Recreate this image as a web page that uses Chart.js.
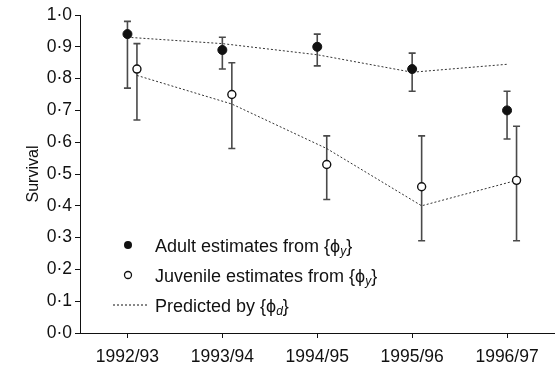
<!DOCTYPE html>
<html>
<head>
<meta charset="utf-8">
<script src="https://cdn.jsdelivr.net/npm/chart.js@4/dist/chart.umd.min.js"></script>
<style>
  html, body { margin: 0; padding: 0; background: #fff; }
  canvas { display: block; }
</style>
</head>
<body>
<canvas id="survival_canvas" width="560" height="369"></canvas>
<script>
// Jahre (Kategorien)
const years = ['1992/93', '1993/94', '1994/95', '1995/96', '1996/97'];

// Adulte Schätzungen mit Fehlerbalken
const adultEst  = [0.94, 0.89, 0.90, 0.83, 0.70];
const adultLow  = [0.77, 0.83, 0.84, 0.76, 0.61];
const adultHigh = [0.98, 0.93, 0.94, 0.88, 0.76];

// Juvenile Schätzungen mit Fehlerbalken
const juvEst  = [0.83, 0.75, 0.53, 0.46, 0.48];
const juvLow  = [0.67, 0.58, 0.42, 0.29, 0.29];
const juvHigh = [0.91, 0.85, 0.62, 0.62, 0.65];

// Vorhersage {phi_d}
const predAdult = [0.93, 0.91, 0.875, 0.82, 0.845];
const predJuv   = [0.81, 0.72, 0.58, 0.40, 0.48];

const yTicks = [0, 0.1, 0.2, 0.3, 0.4, 0.5, 0.6, 0.7, 0.8, 0.9, 1.0];
const juvShift = 0.1; // Juvenile leicht nach rechts versetzt

const FONT = "'Liberation Sans', Arial, Helvetica, sans-serif";

const toPoints = (vals, shift) => vals.map((v, i) => ({ x: i + shift, y: v }));

// Fehlerbalken über die Skalen zeichnen
const errorBars = {
  id: 'errorBars',
  beforeDatasetsDraw(chart) {
    const { ctx, scales: { x, y } } = chart;
    const sets = [
      { low: adultLow, high: adultHigh, shift: 0 },
      { low: juvLow, high: juvHigh, shift: juvShift }
    ];
    ctx.save();
    ctx.strokeStyle = '#4a4a4a';
    ctx.lineWidth = 1.6;
    sets.forEach(s => {
      s.low.forEach((lo, i) => {
        const px = x.getPixelForValue(i + s.shift);
        const y1 = y.getPixelForValue(lo);
        const y2 = y.getPixelForValue(s.high[i]);
        ctx.beginPath();
        ctx.moveTo(px, y1); ctx.lineTo(px, y2);
        ctx.moveTo(px - 3.5, y1); ctx.lineTo(px + 3.5, y1);
        ctx.moveTo(px - 3.5, y2); ctx.lineTo(px + 3.5, y2);
        ctx.stroke();
      });
    });
    ctx.restore();
  }
};

// Legende mit Index (ϕ_y, ϕ_d)
const legendItems = [
  { kind: 'filled', text: 'Adult estimates from {ϕ', sub: 'y', tail: '}' },
  { kind: 'open', text: 'Juvenile estimates from {ϕ', sub: 'y', tail: '}' },
  { kind: 'dotted', text: 'Predicted by {ϕ', sub: 'd', tail: '}' }
];

const customLegend = {
  id: 'customLegend',
  afterDraw(chart) {
    const { ctx, chartArea } = chart;
    const left = chartArea.left;
    ctx.save();
    legendItems.forEach((item, k) => {
      const cy = 245 + k * 30;
      const sx = left + 48;
      ctx.fillStyle = '#111';
      ctx.strokeStyle = '#111';
      if (item.kind === 'filled') {
        ctx.beginPath(); ctx.arc(sx, cy, 4, 0, Math.PI * 2); ctx.fill();
      } else if (item.kind === 'open') {
        ctx.beginPath(); ctx.arc(sx, cy, 3.5, 0, Math.PI * 2);
        ctx.fillStyle = '#fff'; ctx.fill();
        ctx.lineWidth = 1.3; ctx.stroke();
      } else {
        ctx.setLineDash([2, 2]); ctx.lineWidth = 1;
        ctx.beginPath(); ctx.moveTo(sx - 15, cy); ctx.lineTo(sx + 20, cy); ctx.stroke();
        ctx.setLineDash([]);
      }
      ctx.fillStyle = '#111';
      ctx.textBaseline = 'alphabetic';
      const base = cy + 6.5;
      let tx = left + 75;
      ctx.font = '18px ' + FONT;
      ctx.fillText(item.text, tx, base);
      tx += ctx.measureText(item.text).width;
      ctx.font = 'italic 12px ' + FONT;
      ctx.fillText(item.sub, tx, base + 3);
      tx += ctx.measureText(item.sub).width;
      ctx.font = '18px ' + FONT;
      ctx.fillText(item.tail, tx, base);
    });
    ctx.restore();
  }
};

new Chart(document.getElementById('survival_canvas'), {
  type: 'line',
  data: {
    datasets: [
      {
        label: 'Adult',
        data: toPoints(adultEst, 0),
        showLine: false,
        pointRadius: 4.5,
        pointBackgroundColor: '#111',
        pointBorderColor: '#111',
        pointBorderWidth: 1
      },
      {
        label: 'Juvenile',
        data: toPoints(juvEst, juvShift),
        showLine: false,
        pointRadius: 4,
        pointBackgroundColor: '#fff',
        pointBorderColor: '#111',
        pointBorderWidth: 1.4
      },
      {
        label: 'Predicted adult',
        data: toPoints(predAdult, 0),
        borderColor: '#333',
        borderWidth: 1,
        borderDash: [2, 2],
        pointRadius: 0,
        tension: 0
      },
      {
        label: 'Predicted juvenile',
        data: toPoints(predJuv, juvShift),
        borderColor: '#333',
        borderWidth: 1,
        borderDash: [2, 2],
        pointRadius: 0,
        tension: 0
      }
    ]
  },
  options: {
    responsive: false,
    animation: false,
    layout: { padding: { top: 15, right: 0, left: 0, bottom: 0 } },
    plugins: {
      legend: { display: false },
      tooltip: { enabled: false }
    },
    scales: {
      x: {
        type: 'linear',
        min: -0.5,
        max: 4.5,
        afterFit: s => { s.height = 36; },
        afterBuildTicks: s => { s.ticks = years.map((_, i) => ({ value: i })); },
        border: { display: true, color: '#111', width: 1 },
        grid: { drawOnChartArea: false, tickLength: 5, color: '#111' },
        ticks: {
          padding: 9,
          color: '#111',
          font: { family: FONT, size: 17.5 },
          callback: v => years[v]
        }
      },
      y: {
        min: 0,
        max: 1,
        afterFit: s => { s.width = 80; },
        afterBuildTicks: s => { s.ticks = yTicks.map(v => ({ value: v })); },
        border: { display: true, color: '#111', width: 1 },
        grid: { drawOnChartArea: false, tickLength: 5, color: '#111' },
        ticks: {
          padding: 3,
          color: '#111',
          font: { family: FONT, size: 17.5 },
          callback: v => v.toFixed(1).replace('.', '·')
        },
        title: {
          display: true,
          text: 'Survival',
          color: '#111',
          font: { family: FONT, size: 16 },
          padding: { top: 24, bottom: 0 }
        }
      }
    }
  },
  plugins: [errorBars, customLegend]
});
</script>
</body>
</html>
